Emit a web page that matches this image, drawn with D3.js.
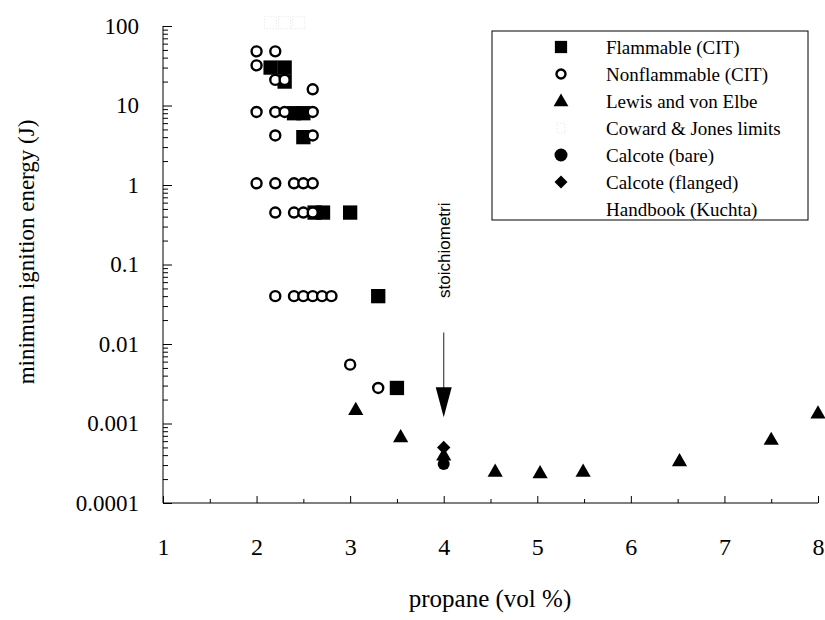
<!DOCTYPE html>
<html>
<head>
<meta charset="utf-8">
<script src="https://cdn.jsdelivr.net/npm/d3@7"></script>
<style>
  body { margin: 0; background: #fff; }
  svg text { font-family: "Liberation Serif", "Times New Roman", serif; fill: #000; }
</style>
</head>
<body>
<script>
// data
var flamX = [2.15, 2.3, 2.3, 2.4, 2.5, 2.5, 2.62, 2.71, 3.0, 3.3, 3.5];
var flamY = [30, 30, 20, 8, 8, 4, 0.45, 0.45, 0.45, 0.04, 0.0028];

var nonflamX = [2.0, 2.2, 2.0, 2.2, 2.3, 2.6, 2.0, 2.2, 2.3, 2.6, 2.2, 2.6,
                2.0, 2.2, 2.4, 2.5, 2.6, 2.2, 2.4, 2.5, 2.6,
                2.2, 2.4, 2.5, 2.6, 2.7, 2.8, 3.0, 3.3];
var nonflamY = [48, 48, 32, 21, 21, 16, 8.3, 8.3, 8.3, 8.3, 4.2, 4.2,
                1.05, 1.05, 1.05, 1.05, 1.05, 0.45, 0.45, 0.45, 0.45,
                0.04, 0.04, 0.04, 0.04, 0.04, 0.04, 0.0055, 0.0028];

var lewisX = [3.06, 3.54, 4.0, 4.55, 5.03, 5.49, 6.52, 7.5, 8.0];
var lewisY = [0.0015, 0.00068, 0.0004, 0.00025, 0.00024, 0.00025, 0.00034, 0.00063, 0.00135];

var cowardX = [2.15, 2.3, 2.45];
var cowardY = [110, 110, 110];

var bareX = [4.0];
var bareY = [0.00031];

var flangedX = [4.0];
var flangedY = [0.0005];

var stoich = {x: 4, from: 0.014, to: 0.0012, label: 0.038};

var xTicks = [1, 2, 3, 4, 5, 6, 7, 8];
var xMinor = [1.5, 2.5, 3.5, 4.5, 5.5, 6.5, 7.5];
var yTicks = [0.0001, 0.001, 0.01, 0.1, 1, 10, 100];

var legendNames = ["Flammable (CIT)", "Nonflammable (CIT)", "Lewis and von Elbe",
                   "Coward & Jones limits", "Calcote (bare)", "Calcote (flanged)",
                   "Handbook (Kuchta)"];

var width = 825, height = 620;
var svg = d3.select("body").append("svg")
    .attr("width", width)
    .attr("height", height);

var x = d3.scaleLinear().domain([1, 8]).range([163, 818]);
var y = d3.scaleLog().domain([0.0001, 100]).range([503, 26]);

// minor log ticks on y
var yMinor = [];
yTicks.slice(0, -1).forEach(function(d) {
  for (var k = 2; k < 10; k++) yMinor.push(d * k);
});

svg.append("g")
    .attr("transform", "translate(163,0)")
    .call(d3.axisRight(y).tickValues(yMinor).tickSize(5).tickFormat(""))
    .call(g => g.select(".domain").remove());

svg.append("g")
    .attr("transform", "translate(163,0)")
    .call(d3.axisLeft(y).tickValues(yTicks).tickSize(-9).tickPadding(24)
      .tickFormat(d => String(d)))
    .call(g => g.select(".domain").attr("d", "M0,26V503"))
    .selectAll("text")
      .style("font-size", "23px");

svg.append("g")
    .attr("transform", "translate(0,503)")
    .call(d3.axisBottom(x).tickValues(xMinor).tickSize(-4).tickFormat(""))
    .call(g => g.select(".domain").remove());

svg.append("g")
    .attr("transform", "translate(0,503)")
    .call(d3.axisBottom(x).tickValues(xTicks).tickSize(-7).tickPadding(35)
      .tickFormat(d3.format("d")))
    .call(g => g.select(".domain").attr("d", "M163,0H818"))
    .selectAll("text")
      .style("font-size", "24px");

svg.selectAll(".tick line, .domain").attr("stroke", "#000");

// axis titles
svg.append("text")
    .attr("x", 490)
    .attr("y", 607)
    .attr("text-anchor", "middle")
    .style("font-size", "25px")
    .text("propane (vol %)");

svg.append("text")
    .attr("transform", "translate(34,252) rotate(-90)")
    .attr("text-anchor", "middle")
    .style("font-size", "23px")
    .text("minimum ignition energy (J)");

// symbols
var sq = d3.symbol().type(d3.symbolSquare).size(205);
var tri = d3.symbol().type(d3.symbolTriangle).size(100);
var dia = d3.symbol().type(d3.symbolSquare).size(90);

function pts(xs, ys) { return xs.map((v, i) => [v, ys[i]]); }

svg.append("g").selectAll("rect")
    .data(pts(cowardX, cowardY))
    .enter().append("rect")
      .attr("x", d => x(d[0]) - 6)
      .attr("y", d => y(d[1]) - 6)
      .attr("width", 12)
      .attr("height", 12)
      .attr("fill", "none")
      .attr("stroke", "#e2e2e2")
      .attr("stroke-dasharray", "1,2");

svg.append("g").selectAll("path")
    .data(pts(flamX, flamY))
    .enter().append("path")
      .attr("d", sq)
      .attr("transform", d => `translate(${x(d[0])},${y(d[1])})`)
      .attr("fill", "#000");

svg.append("g").selectAll("circle")
    .data(pts(nonflamX, nonflamY))
    .enter().append("circle")
      .attr("cx", d => x(d[0]))
      .attr("cy", d => y(d[1]))
      .attr("r", 5)
      .attr("fill", "#fff")
      .attr("stroke", "#000")
      .attr("stroke-width", 2.4);

svg.append("g").selectAll("path")
    .data(pts(flangedX, flangedY))
    .enter().append("path")
      .attr("d", dia)
      .attr("transform", d => `translate(${x(d[0])},${y(d[1])}) rotate(45)`)
      .attr("fill", "#000");

svg.append("g").selectAll("path")
    .data(pts(lewisX, lewisY))
    .enter().append("path")
      .attr("d", tri)
      .attr("transform", d => `translate(${x(d[0])},${y(d[1]) + 1})`)
      .attr("fill", "#000");

svg.append("g").selectAll("circle")
    .data(pts(bareX, bareY))
    .enter().append("circle")
      .attr("cx", d => x(d[0]))
      .attr("cy", d => y(d[1]))
      .attr("r", 6)
      .attr("fill", "#000");

// stoichiometric arrow
var ax = x(stoich.x);
svg.append("line")
    .attr("x1", ax).attr("x2", ax)
    .attr("y1", y(stoich.from))
    .attr("y2", y(stoich.to) - 28)
    .attr("stroke", "#444")
    .attr("stroke-width", 1.2);
svg.append("path")
    .attr("d", `M${ax - 8},${y(stoich.to) - 30}L${ax + 8},${y(stoich.to) - 30}L${ax},${y(stoich.to)}Z`)
    .attr("fill", "#000");
svg.append("text")
    .attr("transform", `translate(${ax + 6},${y(stoich.label)}) rotate(-90)`)
    .style("font-family", "'Liberation Sans', Arial, sans-serif")
    .style("font-size", "17px")
    .text("stoichiometri");

// legend
var legend = svg.append("g");
legend.append("rect")
    .attr("x", 492).attr("y", 31)
    .attr("width", 316).attr("height", 189)
    .attr("fill", "#fff")
    .attr("stroke", "#000")
    .attr("stroke-width", 1);

var row = legend.selectAll("g")
    .data(legendNames)
    .enter().append("g")
      .attr("transform", (d, i) => `translate(561,${47 + i * 27})`);

row.append("text")
    .attr("x", 45)
    .attr("dy", "0.35em")
    .style("font-size", "19px")
    .text(d => d);

row.each(function(d, i) {
  var g = d3.select(this);
  if (i === 0) g.append("path").attr("d", d3.symbol().type(d3.symbolSquare).size(150)).attr("fill", "#000");
  if (i === 1) g.append("circle").attr("r", 4.5).attr("fill", "#fff").attr("stroke", "#000").attr("stroke-width", 2.4);
  if (i === 2) g.append("path").attr("d", d3.symbol().type(d3.symbolTriangle).size(95)).attr("transform", "translate(0,1)").attr("fill", "#000");
  if (i === 3) g.append("rect").attr("x", -4).attr("y", -5).attr("width", 8).attr("height", 10)
      .attr("fill", "none").attr("stroke", "#e2e2e2").attr("stroke-dasharray", "1,2");
  if (i === 4) g.append("circle").attr("r", 6.5).attr("fill", "#000");
  if (i === 5) g.append("path").attr("d", d3.symbol().type(d3.symbolSquare).size(85)).attr("transform", "rotate(45)").attr("fill", "#000");
});
</script>
</body>
</html>
